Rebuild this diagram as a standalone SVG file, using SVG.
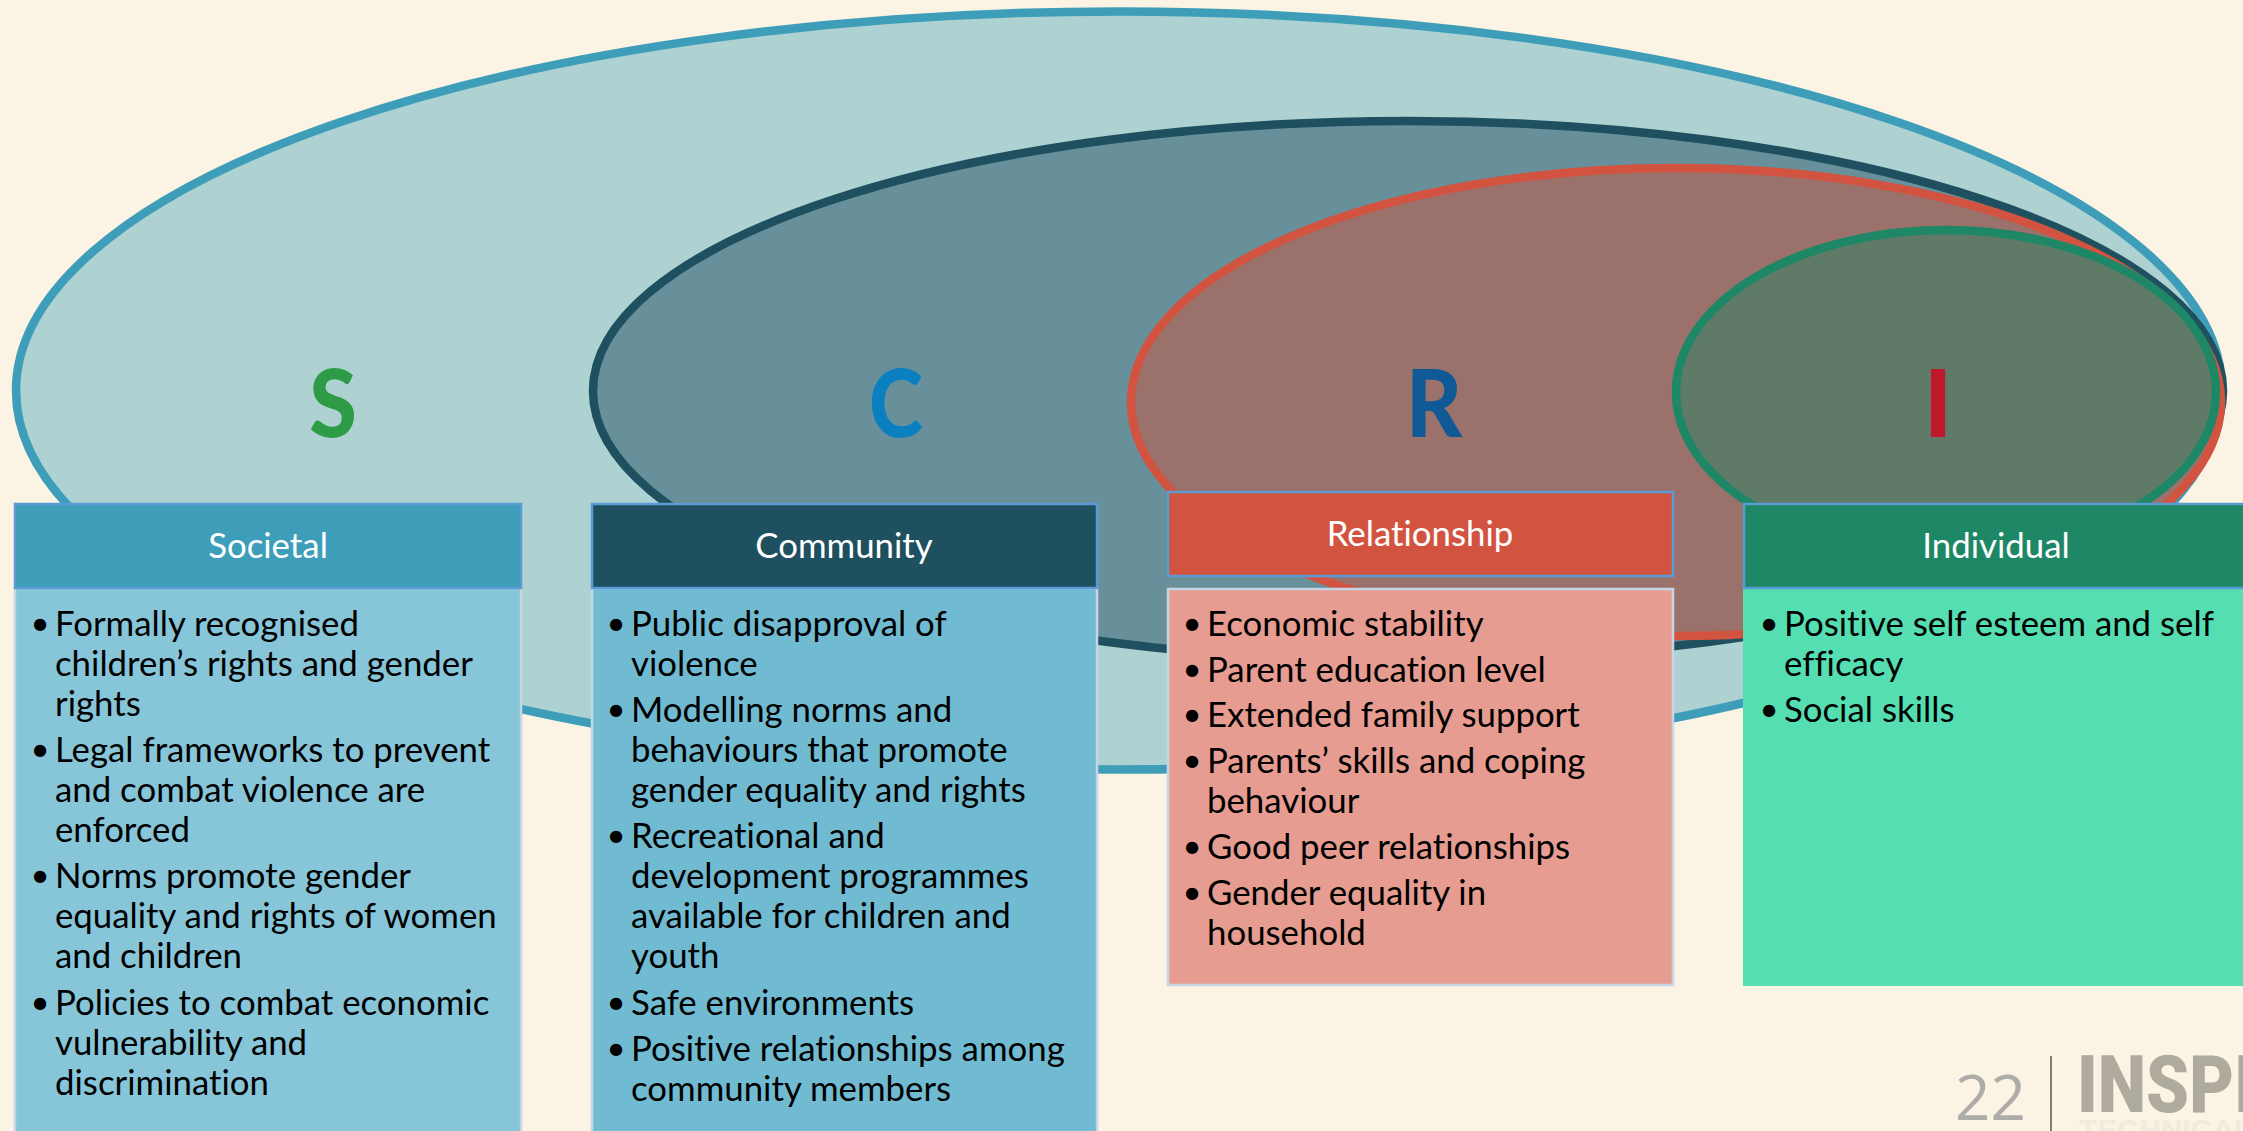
<svg xmlns="http://www.w3.org/2000/svg" width="2243" height="1131" viewBox="0 0 2243 1131">
<style>
text{font-family:Lato,"Open Sans",sans-serif;font-variant-ligatures:none}
.t{font-size:34.8px;fill:#000}
.b{font-size:33px}
.h{font-size:34.8px;fill:#fff;text-anchor:middle}
.l{font-size:94px;font-weight:900;text-anchor:middle}
.e{stroke-width:8.5}
.hd{stroke:#5b9bd5;stroke-width:2.5}
.bd{stroke:#c6d5e6;stroke-width:2.5}
</style>
<rect width="2243" height="1131" fill="#fbf3e3"/>
<g id="ellipses">
<ellipse class="e" cx="1119" cy="390.5" rx="1103" ry="379" fill="#aed2d2" stroke="#3e9eba"/>
<ellipse class="e" cx="1408" cy="391" rx="815" ry="270" fill="#67909a" stroke="#1f505f"/>
<ellipse class="e" cx="1676" cy="402" rx="545" ry="234" fill="#9a716b" stroke="#d25440"/>
<ellipse class="e" cx="1946" cy="392" rx="270" ry="162" fill="#5f7b68" stroke="#1e8766"/>
<text class="l" transform="translate(333 437) scale(.92 1)" fill="#2e9b46">S</text>
<text class="l" transform="translate(896 437) scale(.87 1)" fill="#0b80c0">C</text>
<text class="l" transform="translate(1434 437) scale(.92 1)" fill="#0f5a96">R</text>
<text class="l" transform="translate(1938 437)" fill="#c0182b">I</text>
</g>
<g id="societal">
<rect class="bd" x="15" y="588" width="506" height="560" fill="#87c5d9"/>
<rect class="hd" x="15" y="504" width="506" height="84" fill="#3e9eba"/>
<text class="h" x="268" y="558">Societal</text>
<g class="t" transform="translate(0 1)">
<text class="b" x="30.5" y="634">•</text><text x="55" y="635">Formally recognised</text>
<text x="55" y="675">children’s rights and gender</text>
<text x="55" y="715">rights</text>
<text class="b" x="30.5" y="760">•</text><text x="55" y="761">Legal frameworks to prevent</text>
<text x="55" y="801">and combat violence are</text>
<text x="55" y="841">enforced</text>
<text class="b" x="30.5" y="886">•</text><text x="55" y="887">Norms promote gender</text>
<text x="55" y="927">equality and rights of women</text>
<text x="55" y="967">and children</text>
<text class="b" x="30.5" y="1013">•</text><text x="55" y="1014">Policies to combat economic</text>
<text x="55" y="1054">vulnerability and</text>
<text x="55" y="1094">discrimination</text>
</g>
</g>
<g id="community">
<rect class="bd" x="592" y="588" width="505" height="560" fill="#71bbd2"/>
<rect class="hd" x="592" y="504" width="505" height="84" fill="#1f505f"/>
<text class="h" x="844" y="558">Community</text>
<g class="t" transform="translate(0 1)">
<text class="b" x="606.5" y="634">•</text><text x="631" y="635">Public disapproval of</text>
<text x="631" y="675">violence</text>
<text class="b" x="606.5" y="720">•</text><text x="631" y="721">Modelling norms and</text>
<text x="631" y="761">behaviours that promote</text>
<text x="631" y="801">gender equality and rights</text>
<text class="b" x="606.5" y="846">•</text><text x="631" y="847">Recreational and</text>
<text x="631" y="887">development programmes</text>
<text x="631" y="927">available for children and</text>
<text x="631" y="967">youth</text>
<text class="b" x="606.5" y="1013">•</text><text x="631" y="1014">Safe environments</text>
<text class="b" x="606.5" y="1059">•</text><text x="631" y="1060">Positive relationships among</text>
<text x="631" y="1100">community members</text>
</g>
</g>
<g id="relationship">
<rect class="bd" x="1168" y="589" width="505" height="396" fill="#e69c90"/>
<rect class="hd" x="1168" y="492" width="505" height="84" fill="#d25440"/>
<text class="h" x="1420" y="546">Relationship</text>
<g class="t" transform="translate(0 1)">
<text class="b" x="1182.5" y="634">•</text><text x="1207" y="635">Economic stability</text>
<text class="b" x="1182.5" y="680">•</text><text x="1207" y="681">Parent education level</text>
<text class="b" x="1182.5" y="725">•</text><text x="1207" y="726">Extended family support</text>
<text class="b" x="1182.5" y="771">•</text><text x="1207" y="772">Parents’ skills and coping</text>
<text x="1207" y="812">behaviour</text>
<text class="b" x="1182.5" y="857">•</text><text x="1207" y="858">Good peer relationships</text>
<text class="b" x="1182.5" y="903">•</text><text x="1207" y="904">Gender equality in</text>
<text x="1207" y="944">household</text>
</g>
</g>
<g id="individual">
<rect x="1743" y="588" width="520" height="398" fill="#54deb2"/>
<rect class="hd" x="1744" y="504" width="520" height="84" fill="#1e8766"/>
<text class="h" x="1996" y="558">Individual</text>
<g class="t" transform="translate(0 1)">
<text class="b" x="1759.5" y="634">•</text><text x="1784" y="635">Positive self esteem and self</text>
<text x="1784" y="675">efficacy</text>
<text class="b" x="1759.5" y="720">•</text><text x="1784" y="721">Social skills</text>
</g>
</g>
<g id="footer">
<text x="1955" y="1120" style="font-family:'Open Sans',sans-serif;font-weight:400;font-size:62px;fill:#aeaca8">22</text>
<rect x="2050" y="1056" width="2" height="75" fill="#7f7d7a"/>
<text transform="translate(2077 1112) scale(.86 1)" style="font-family:Roboto,sans-serif;font-weight:900;font-size:80px;fill:#aeaa9e">INSPIRE</text>
<text x="2079" y="1140" style="font-family:'Liberation Sans',sans-serif;font-weight:700;font-size:30px;fill:#f0ebdf">TECHNICAL PACKAGE</text>
</g>
</svg>
